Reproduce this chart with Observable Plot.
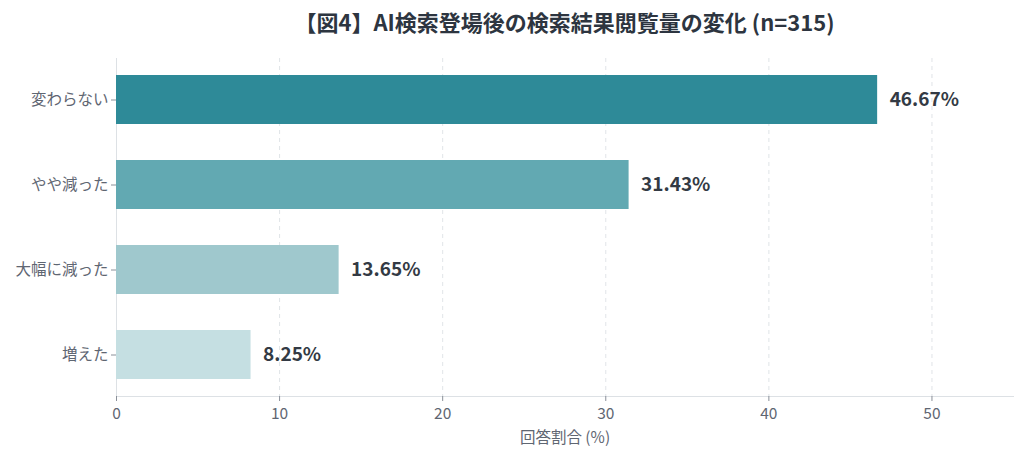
<!DOCTYPE html>
<html>
<head>
<meta charset="utf-8">
<script src="https://cdn.jsdelivr.net/npm/d3@7"></script>
<script src="https://cdn.jsdelivr.net/npm/@observablehq/plot@0.6"></script>
<style>
  body { margin: 0; background: #fff; font-family: "Noto Sans CJK JP", "Noto Sans", sans-serif; }
  #title { margin-left: 116px; width: 897px; text-align: center; font-size: 22px; font-weight: 700; color: #2d3540; height: 45px; line-height: 42px; }
</style>
</head>
<body>
<div id="title">【図4】AI検索登場後の検索結果閲覧量の変化 (n=315)</div>
<div id="chart"></div>
<script>
const categories = ["変わらない", "やや減った", "大幅に減った", "増えた"];
const values = [46.67, 31.43, 13.65, 8.25];
const valueLabels = ["46.67%", "31.43%", "13.65%", "8.25%"];
const barColors = ["#2e8a98", "#62a9b2", "#9fc8cd", "#c5dfe2"];
const xTicks = [0, 10, 20, 30, 40, 50];

const data = categories.map((c, i) => ({category: c, value: values[i], label: valueLabels[i]}));

const chart = Plot.plot({
  width: 1024,
  height: 410,
  marginLeft: 116,
  marginRight: 11,
  marginTop: 13,
  marginBottom: 59,
  style: {fontFamily: "'Noto Sans CJK JP', 'Noto Sans', sans-serif", fontSize: "15.5px", color: "#5f6672", background: "#fff"},
  x: {domain: [0, 55]},
  y: {domain: categories, paddingInner: 0.42, paddingOuter: 0.18},
  color: {domain: categories, range: barColors},
  marks: [
    Plot.gridX(xTicks.slice(1), {stroke: "#d8dde2", strokeOpacity: 0.8, strokeDasharray: "4,4"}),
    Plot.frame({anchor: "left", stroke: "#dde1e5"}),
    Plot.frame({anchor: "bottom", stroke: "#dde1e5"}),
    Plot.barX(data, {x: "value", y: "category", fill: "category"}),
    Plot.text(data, {x: "value", y: "category", text: "label", textAnchor: "start", dx: 12, fontSize: 19, fontWeight: 700, fill: "#333a44"}),
    Plot.axisY({tickSize: 5, tickPadding: 3, stroke: "#8a9099", label: null, fontSize: 15.5}),
    Plot.axisX({ticks: xTicks, tickSize: 5, tickPadding: 6, stroke: "#8a9099", label: "回答割合 (%)", labelAnchor: "center", labelArrow: "none", labelOffset: 46, fontSize: 15.5})
  ]
});
document.getElementById("chart").appendChild(chart);
</script>
</body>
</html>
